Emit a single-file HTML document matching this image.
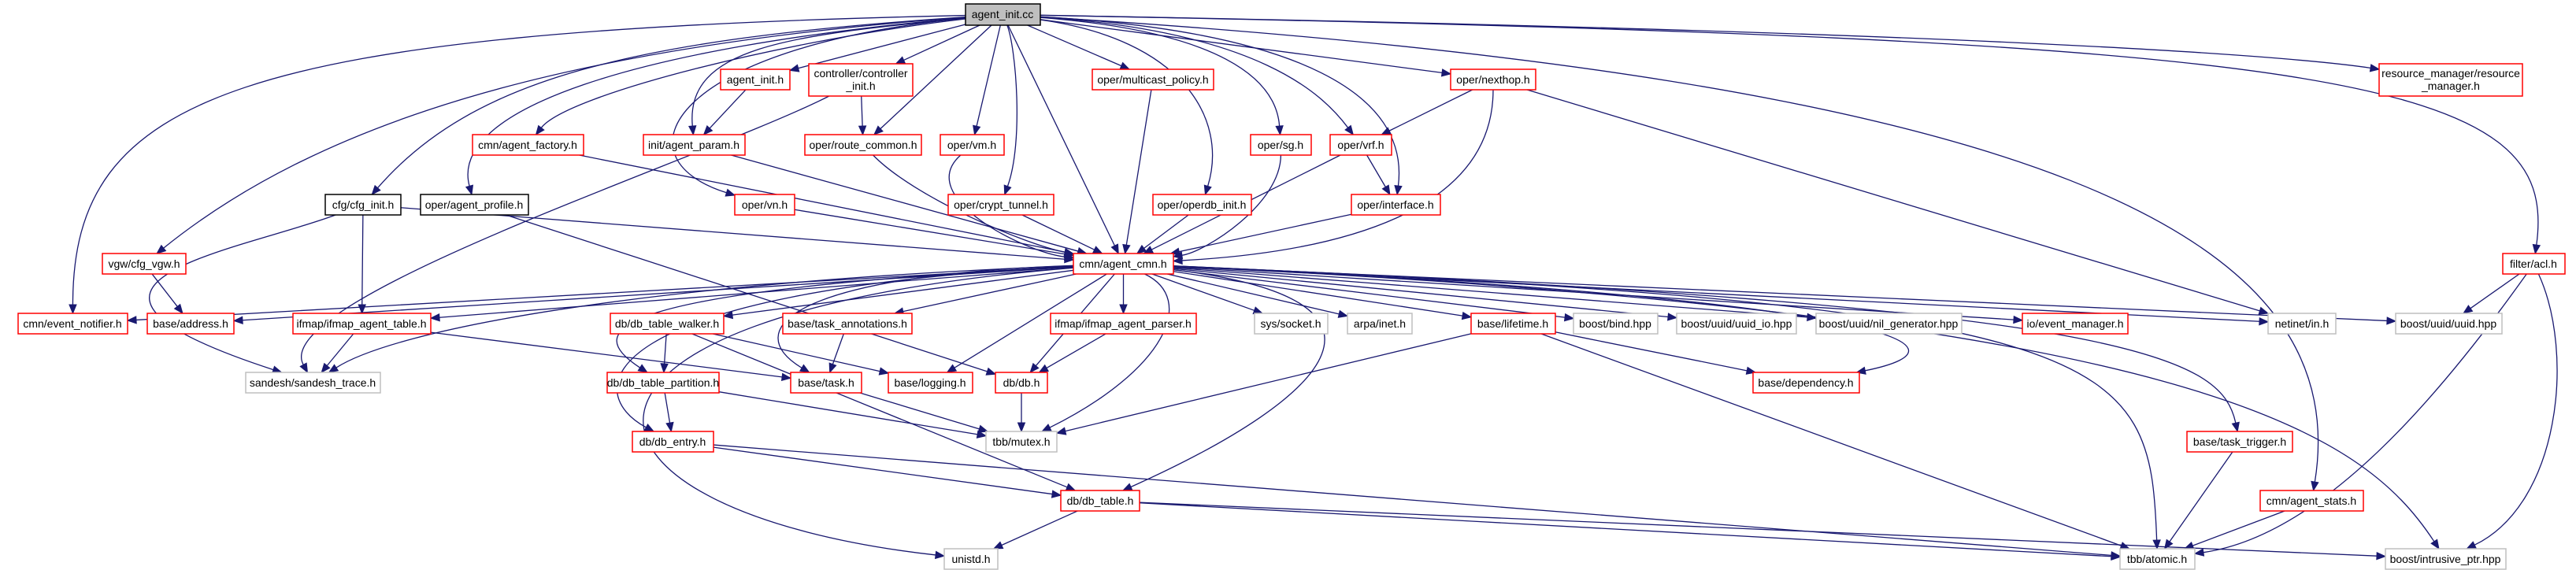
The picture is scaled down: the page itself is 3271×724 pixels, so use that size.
<!DOCTYPE html>
<html><head><meta charset="utf-8"><style>
html,body{margin:0;padding:0;background:#fff;width:3271px;height:724px;overflow:hidden}
svg text{font-family:"Liberation Sans",Arial,sans-serif;font-size:14px;fill:#000;text-anchor:middle}
</style></head><body>
<svg id="g" width="3271" height="724" viewBox="0 0 3271 724" xmlns="http://www.w3.org/2000/svg">
<g id="edges" fill="none" stroke="#191970" stroke-width="1.3"></g>
<g id="heads" fill="#191970" stroke="#191970"></g>
<g id="nodes" stroke-width="1.5">
<rect id="a0" x="1226" y="5" width="95" height="27" fill="#bfbfbf" stroke="#000"/><text x="1273" y="23">agent_init.cc</text>
<rect id="n_aih" x="915" y="88" width="88" height="26" fill="#fff" stroke="#f00"/><text x="959" y="106">agent_init.h</text>
<rect id="n_ctl" x="1027" y="81" width="132" height="41" fill="#fff" stroke="#f00"/><text x="1093" y="98">controller/controller</text><text x="1093" y="114">_init.h</text>
<rect id="n_mc" x="1387" y="88" width="154" height="26" fill="#fff" stroke="#f00"/><text x="1464" y="106">oper/multicast_policy.h</text>
<rect id="n_nh" x="1842" y="88" width="108" height="26" fill="#fff" stroke="#f00"/><text x="1896" y="106">oper/nexthop.h</text>
<rect id="n_rm" x="3021" y="81" width="182" height="41" fill="#fff" stroke="#f00"/><text x="3112" y="98">resource_manager/resource</text><text x="3112" y="114">_manager.h</text>
<rect id="n_fac" x="600" y="171" width="141" height="26" fill="#fff" stroke="#f00"/><text x="670" y="189">cmn/agent_factory.h</text>
<rect id="n_par" x="817" y="171" width="129" height="26" fill="#fff" stroke="#f00"/><text x="881" y="189">init/agent_param.h</text>
<rect id="n_rc" x="1022" y="171" width="148" height="26" fill="#fff" stroke="#f00"/><text x="1096" y="189">oper/route_common.h</text>
<rect id="n_vm" x="1194" y="171" width="81" height="26" fill="#fff" stroke="#f00"/><text x="1234" y="189">oper/vm.h</text>
<rect id="n_sg" x="1588" y="171" width="77" height="26" fill="#fff" stroke="#f00"/><text x="1626" y="189">oper/sg.h</text>
<rect id="n_vrf" x="1689" y="171" width="78" height="26" fill="#fff" stroke="#f00"/><text x="1728" y="189">oper/vrf.h</text>
<rect id="n_cfg" x="413" y="247" width="96" height="26" fill="#fff" stroke="#000"/><text x="461" y="265">cfg/cfg_init.h</text>
<rect id="n_prof" x="534" y="247" width="137" height="26" fill="#fff" stroke="#000"/><text x="602" y="265">oper/agent_profile.h</text>
<rect id="n_vn" x="933" y="247" width="76" height="26" fill="#fff" stroke="#f00"/><text x="971" y="265">oper/vn.h</text>
<rect id="n_ct" x="1204" y="247" width="134" height="26" fill="#fff" stroke="#f00"/><text x="1271" y="265">oper/crypt_tunnel.h</text>
<rect id="n_odb" x="1464" y="247" width="125" height="26" fill="#fff" stroke="#f00"/><text x="1526" y="265">oper/operdb_init.h</text>
<rect id="n_if" x="1716" y="247" width="113" height="26" fill="#fff" stroke="#f00"/><text x="1772" y="265">oper/interface.h</text>
<rect id="n_vgw" x="130" y="322" width="106" height="26" fill="#fff" stroke="#f00"/><text x="183" y="340">vgw/cfg_vgw.h</text>
<rect id="n_cmn" x="1363" y="322" width="127" height="26" fill="#fff" stroke="#f00"/><text x="1426" y="340">cmn/agent_cmn.h</text>
<rect id="n_acl" x="3178" y="322" width="79" height="26" fill="#fff" stroke="#f00"/><text x="3217" y="340">filter/acl.h</text>
<rect id="n_en" x="23" y="398" width="139" height="26" fill="#fff" stroke="#f00"/><text x="92" y="416">cmn/event_notifier.h</text>
<rect id="n_addr" x="187" y="398" width="110" height="26" fill="#fff" stroke="#f00"/><text x="242" y="416">base/address.h</text>
<rect id="n_iat" x="372" y="398" width="175" height="26" fill="#fff" stroke="#f00"/><text x="459" y="416">ifmap/ifmap_agent_table.h</text>
<rect id="n_tw" x="775" y="398" width="144" height="26" fill="#fff" stroke="#f00"/><text x="847" y="416">db/db_table_walker.h</text>
<rect id="n_ta" x="994" y="398" width="164" height="26" fill="#fff" stroke="#f00"/><text x="1076" y="416">base/task_annotations.h</text>
<rect id="n_iap" x="1334" y="398" width="185" height="26" fill="#fff" stroke="#f00"/><text x="1426" y="416">ifmap/ifmap_agent_parser.h</text>
<rect id="n_sock" x="1593" y="398" width="93" height="26" fill="#fff" stroke="#bfbfbf"/><text x="1639" y="416">sys/socket.h</text>
<rect id="n_inet" x="1711" y="398" width="82" height="26" fill="#fff" stroke="#bfbfbf"/><text x="1752" y="416">arpa/inet.h</text>
<rect id="n_lt" x="1868" y="398" width="107" height="26" fill="#fff" stroke="#f00"/><text x="1921" y="416">base/lifetime.h</text>
<rect id="n_bind" x="1998" y="398" width="107" height="26" fill="#fff" stroke="#bfbfbf"/><text x="2051" y="416">boost/bind.hpp</text>
<rect id="n_uio" x="2129" y="398" width="152" height="26" fill="#fff" stroke="#bfbfbf"/><text x="2205" y="416">boost/uuid/uuid_io.hpp</text>
<rect id="n_nil" x="2306" y="398" width="185" height="26" fill="#fff" stroke="#bfbfbf"/><text x="2398" y="416">boost/uuid/nil_generator.hpp</text>
<rect id="n_em" x="2568" y="398" width="134" height="26" fill="#fff" stroke="#f00"/><text x="2635" y="416">io/event_manager.h</text>
<rect id="n_in" x="2880" y="398" width="86" height="26" fill="#fff" stroke="#bfbfbf"/><text x="2923" y="416">netinet/in.h</text>
<rect id="n_uuid" x="3042" y="398" width="135" height="26" fill="#fff" stroke="#bfbfbf"/><text x="3109" y="416">boost/uuid/uuid.hpp</text>
<rect id="n_st" x="312" y="473" width="171" height="26" fill="#fff" stroke="#bfbfbf"/><text x="397" y="491">sandesh/sandesh_trace.h</text>
<rect id="n_tp" x="771" y="473" width="142" height="26" fill="#fff" stroke="#f00"/><text x="842" y="491">db/db_table_partition.h</text>
<rect id="n_task" x="1004" y="473" width="90" height="26" fill="#fff" stroke="#f00"/><text x="1049" y="491">base/task.h</text>
<rect id="n_log" x="1128" y="473" width="107" height="26" fill="#fff" stroke="#f00"/><text x="1181" y="491">base/logging.h</text>
<rect id="n_db" x="1264" y="473" width="66" height="26" fill="#fff" stroke="#f00"/><text x="1297" y="491">db/db.h</text>
<rect id="n_dep" x="2226" y="473" width="135" height="26" fill="#fff" stroke="#f00"/><text x="2293" y="491">base/dependency.h</text>
<rect id="n_de" x="803" y="548" width="103" height="26" fill="#fff" stroke="#f00"/><text x="854" y="566">db/db_entry.h</text>
<rect id="n_mtx" x="1252" y="548" width="90" height="26" fill="#fff" stroke="#bfbfbf"/><text x="1297" y="566">tbb/mutex.h</text>
<rect id="n_tt" x="2777" y="548" width="134" height="26" fill="#fff" stroke="#f00"/><text x="2844" y="566">base/task_trigger.h</text>
<rect id="n_dt" x="1347" y="623" width="100" height="26" fill="#fff" stroke="#f00"/><text x="1397" y="641">db/db_table.h</text>
<rect id="n_stats" x="2870" y="623" width="131" height="26" fill="#fff" stroke="#f00"/><text x="2935" y="641">cmn/agent_stats.h</text>
<rect id="n_uni" x="1199" y="697" width="68" height="26" fill="#fff" stroke="#bfbfbf"/><text x="1233" y="715">unistd.h</text>
<rect id="n_atom" x="2692" y="697" width="95" height="26" fill="#fff" stroke="#bfbfbf"/><text x="2739" y="715">tbb/atomic.h</text>
<rect id="n_ip" x="3029" y="697" width="153" height="26" fill="#fff" stroke="#bfbfbf"/><text x="3105" y="715">boost/intrusive_ptr.hpp</text>
</g>
</svg>
<script>
(function(){
var E=[
["a0","n_en",[[300,40],[92,120]]],["a0","n_vgw",[[700,60],[400,160]]],["a0","n_cfg",[[800,50],[600,100]]],["a0","n_prof",[[800,60],[570,140]]],
["a0","n_fac",[[1000,50],[720,120]]],["a0","n_par",[[1000,45],[870,60]]],["a0","n_aih"],["a0","n_ctl"],["a0","n_rc"],["a0","n_vm"],
["a0","n_ct",[[1290,60],[1300,180]]],["a0","n_cmn"],["a0","n_mc"],["a0","n_odb",[[1500,50],[1560,150]]],["a0","n_vn",[[850,60],[780,200]]],
["a0","n_sg",[[1550,40],[1620,100]]],["a0","n_vrf",[[1600,40],[1680,120]]],["a0","n_if",[[1650,40],[1790,120]]],["a0","n_nh"],
["a0","n_stats",[[2600,100],[2990,300]]],["a0","n_rm",[[2500,40],[2900,70]]],["a0","n_acl",[[3000,50],[3250,100]]],
["n_aih","n_par"],["n_ctl","n_rc"],["n_ctl","n_st",[[900,200],[340,380]]],["n_fac","n_cmn"],["n_par","n_cmn"],["n_rc","n_cmn",[[1160,250],[1300,310]]],
["n_vm","n_cmn",[[1160,250],[1300,320]]],["n_mc","n_cmn"],["n_vn","n_cmn"],["n_ct","n_cmn"],["n_odb","n_cmn"],["n_sg","n_cmn",[[1626,260],[1530,320]]],
["n_vrf","n_cmn"],["n_vrf","n_if"],["n_if","n_cmn"],["n_nh","n_vrf"],["n_nh","n_cmn",[[1896,270],[1700,320]]],["n_nh","n_in"],
["n_cfg","n_cmn"],["n_cfg","n_iat"],["n_cfg","n_st",[[300,320],[10,360]]],["n_prof","n_db"],["n_vgw","n_addr"],
["n_cmn","n_en"],["n_cmn","n_addr"],["n_cmn","n_iat"],["n_cmn","n_st",[[800,360],[500,420]]],["n_cmn","n_tw"],["n_cmn","n_tp",[[760,370],[740,420]]],
["n_cmn","n_de",[[740,370],[740,500]]],["n_cmn","n_uni",[[630,400],[700,650]]],["n_cmn","n_ta"],["n_cmn","n_task",[[1000,350],[940,420]]],["n_cmn","n_log"],
["n_cmn","n_iap"],["n_cmn","n_db"],["n_cmn","n_mtx",[[1520,380],[1480,470]]],["n_cmn","n_sock"],["n_cmn","n_inet"],["n_cmn","n_lt"],["n_cmn","n_bind"],
["n_cmn","n_uio"],["n_cmn","n_nil"],["n_cmn","n_em"],["n_cmn","n_in"],["n_cmn","n_uuid"],["n_cmn","n_dep",[[2400,380],[2520,440]]],
["n_cmn","n_tt",[[2700,390],[2820,450]]],["n_cmn","n_atom",[[2700,390],[2730,450]]],["n_cmn","n_ip",[[2800,400],[3000,550]]],["n_cmn","n_dt",[[1800,380],[1700,500]]],
["n_iat","n_st"],["n_iat","n_task"],["n_tw","n_tp"],["n_tw","n_log"],["n_tw","n_dt"],["n_tp","n_de"],["n_tp","n_mtx"],["n_de","n_dt"],["n_de","n_atom"],
["n_dt","n_uni"],["n_dt","n_atom"],["n_dt","n_ip"],["n_ta","n_task"],["n_task","n_mtx"],["n_iap","n_db"],["n_db","n_mtx"],
["n_lt","n_mtx"],["n_lt","n_dep"],["n_lt","n_atom"],["n_tt","n_atom"],["n_stats","n_atom"],["n_acl","n_uuid"],["n_acl","n_atom",[[3100,500],[2950,680]]],["n_acl","n_ip",[[3270,450],[3250,640]]]
];
function box(id){var r=document.getElementById(id);var x=+r.getAttribute("x"),y=+r.getAttribute("y"),w=+r.getAttribute("width"),h=+r.getAttribute("height");return {x:x,y:y,w:w,h:h,cx:x+w/2,cy:y+h/2};}
function clip(b,tx,ty){var dx=tx-b.cx,dy=ty-b.cy;if(!dx&&!dy)return [b.cx,b.cy];var sx=dx?(b.w/2)/Math.abs(dx):1e9,sy=dy?(b.h/2)/Math.abs(dy):1e9;var s=Math.min(sx,sy);return [b.cx+dx*s,b.cy+dy*s];}
var eg=document.getElementById("edges"),hg=document.getElementById("heads"),NS="http://www.w3.org/2000/svg";
E.forEach(function(e){var a=box(e[0]),b=box(e[1]);var c1,c2,p1,p2;
 if(e[2]){c1=e[2][0];c2=e[2][1];p1=clip(a,c1[0],c1[1]);p2=clip(b,c2[0],c2[1]);}
 else{p1=clip(a,b.cx,b.cy);p2=clip(b,a.cx,a.cy);var dx=p2[0]-p1[0],dy=p2[1]-p1[1];c1=[p1[0]+dx*0.33,p1[1]+dy*0.33];c2=[p1[0]+dx*0.67,p1[1]+dy*0.67];}
 var vx=p2[0]-c2[0],vy=p2[1]-c2[1],L=Math.hypot(vx,vy)||1;vx/=L;vy/=L;
 var L2=11,W=4.5;var bx=p2[0]-vx*L2,by=p2[1]-vy*L2;
 var p=document.createElementNS(NS,"path");p.setAttribute("d","M"+p1[0]+","+p1[1]+" C"+c1[0]+","+c1[1]+" "+c2[0]+","+c2[1]+" "+bx+","+by);eg.appendChild(p);
 var t=document.createElementNS(NS,"polygon");t.setAttribute("points",p2[0]+","+p2[1]+" "+(bx-vy*W)+","+(by+vx*W)+" "+(bx+vy*W)+","+(by-vx*W));hg.appendChild(t);
});
})();
</script>
</body></html>
